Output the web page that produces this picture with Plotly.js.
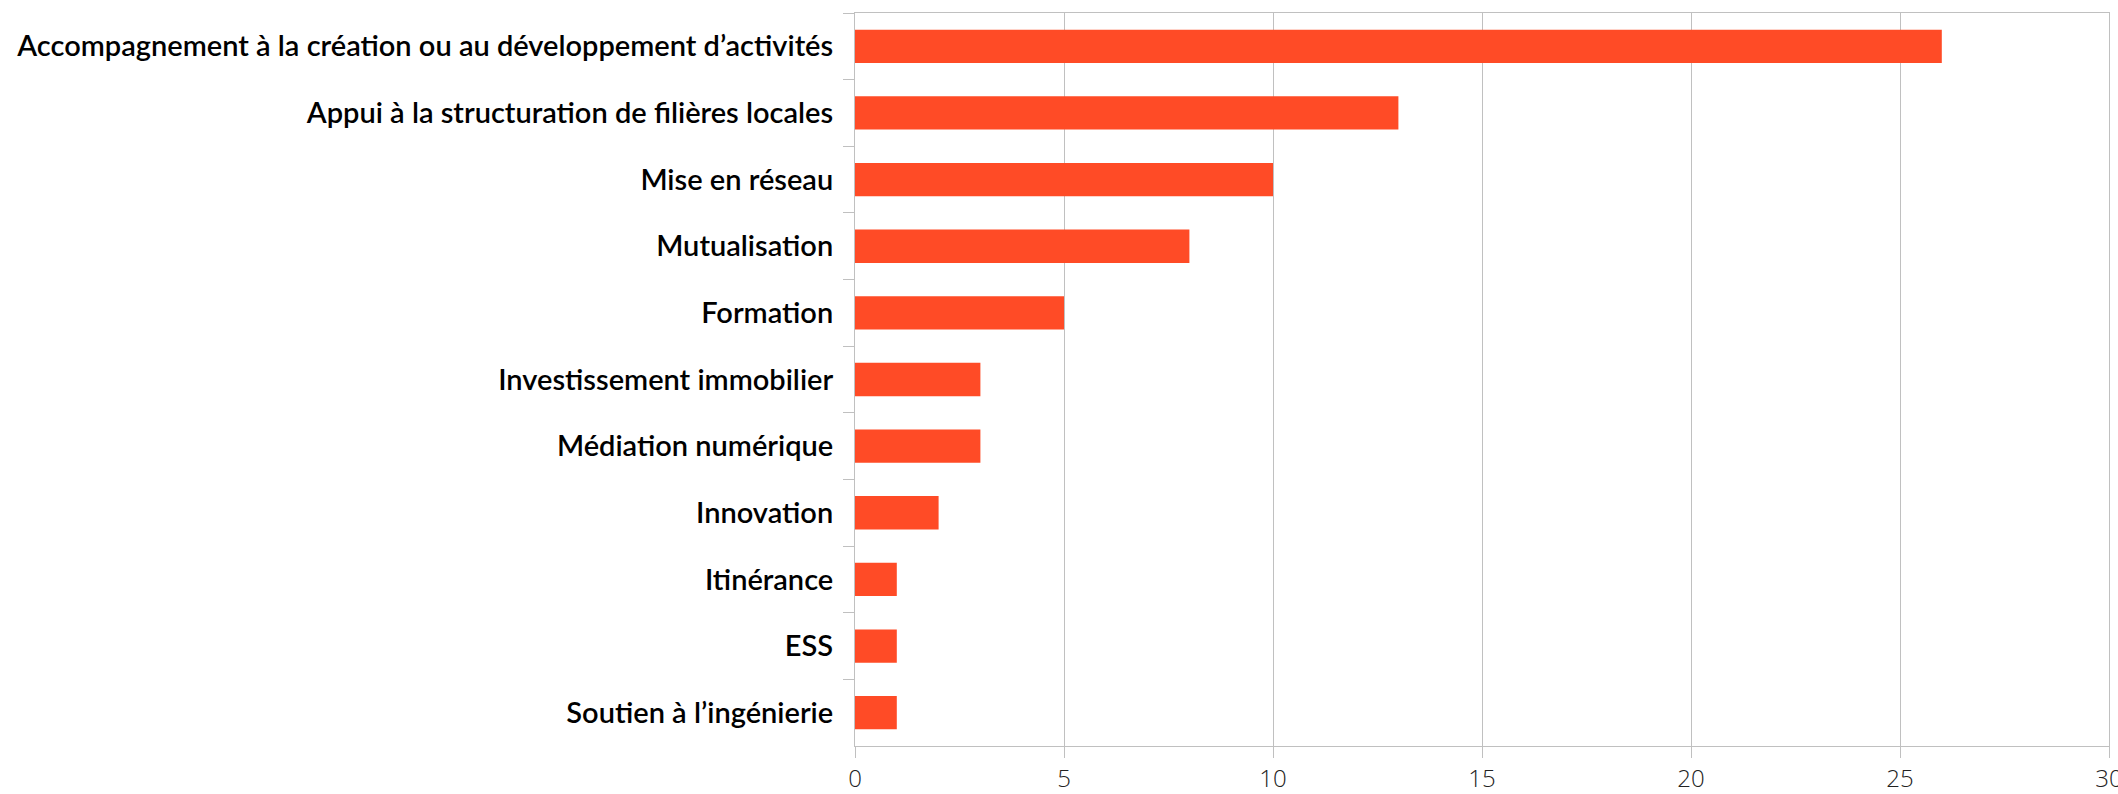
<!DOCTYPE html>
<html><head><meta charset="utf-8">
<script src="https://cdn.plot.ly/plotly-3.0.1.min.js"></script>
<style>html,body{margin:0;padding:0;background:#fff;}#chart{width:2118px;height:794px;}</style>
</head><body><div id="chart"></div>
<script>
const categories = [
  "Accompagnement à la création ou au développement d’activités",
  "Appui à la structuration de filières locales",
  "Mise en réseau",
  "Mutualisation",
  "Formation",
  "Investissement immobilier",
  "Médiation numérique",
  "Innovation",
  "Itinérance",
  "ESS",
  "Soutien à l’ingénierie"
];
const values = [26, 13, 10, 8, 5, 3, 3, 2, 1, 1, 1];
const xTicks = [0, 5, 10, 15, 20, 25, 30];

const trace = {
  type: 'bar', orientation: 'h',
  x: values, y: categories,
  marker: {color: '#FF4B26'},
  hoverinfo: 'x+y'
};
const layout = {
  width: 2118, height: 794,
  margin: {l: 855, r: 9, t: 13, b: 48, pad: 0},
  paper_bgcolor: '#fff', plot_bgcolor: '#fff',
  bargap: 0.5,
  showlegend: false,
  xaxis: {
    range: [0, 30], tickvals: xTicks, ticktext: xTicks.map(String),
    showgrid: true, gridcolor: '#c0c0c0', gridwidth: 1,
    showline: true, linecolor: '#c0c0c0', linewidth: 1, mirror: true,
    ticks: 'outside', ticklen: 11, tickcolor: '#c0c0c0', tickwidth: 1,
    zeroline: false, ticklabeloverflow: 'allow',
    tickfont: {family: 'Open Sans', size: 24, color: '#222', weight: 300}
  },
  yaxis: {
    autorange: 'reversed', type: 'category',
    showgrid: false,
    showline: true, linecolor: '#c0c0c0', linewidth: 1, mirror: true,
    ticks: 'outside', ticklen: 11, tickcolor: '#c0c0c0', tickwidth: 1,
    tickson: 'boundaries', ticklabelstandoff: 15,
    tickfont: {family: 'Lato', size: 29, color: '#000', weight: 600}
  }
};
Plotly.newPlot('chart', [trace], layout, {displayModeBar: false, staticPlot: true});
</script></body></html>
